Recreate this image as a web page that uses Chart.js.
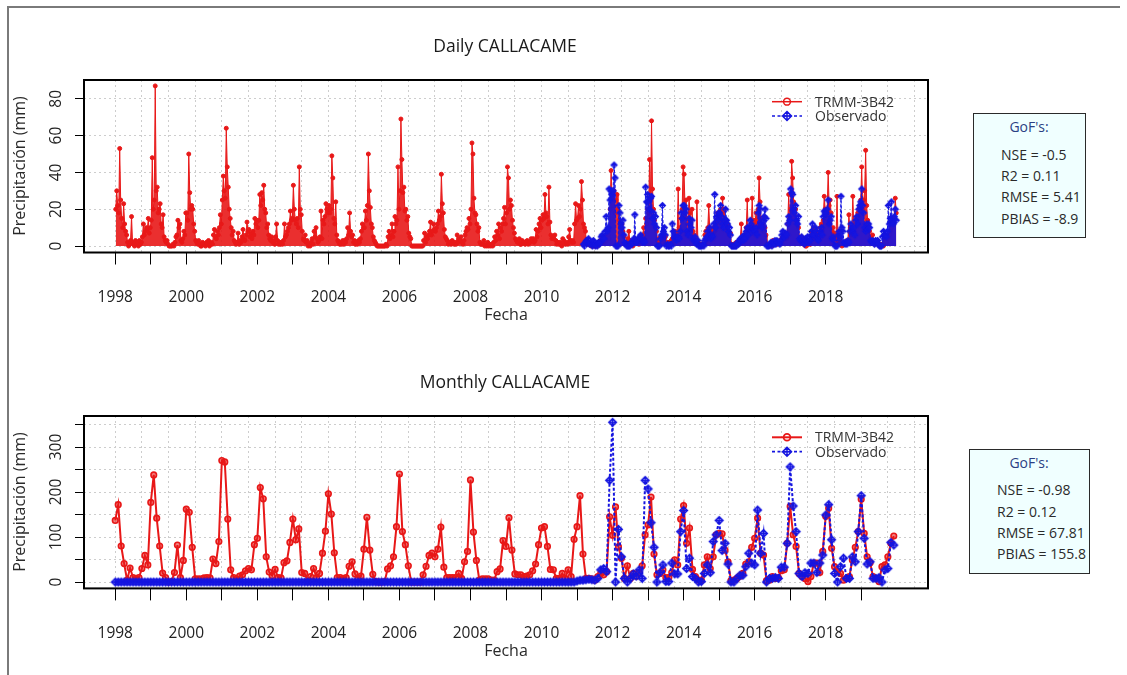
<!DOCTYPE html>
<html>
<head>
<meta charset="utf-8">
<script src="https://cdn.jsdelivr.net/npm/chart.js@4.4.1/dist/chart.umd.min.js"></script>
<style>
html,body{margin:0;padding:0;background:#fff;}
body{width:1127px;height:675px;position:relative;overflow:hidden;font-family:"Open Sans",sans-serif;color:#222;}
.abs{position:absolute;white-space:nowrap;line-height:1.2;}
.c{transform:translate(-50%,-50%);}
.l{transform:translate(0,-50%);}
.rot{transform:translate(-50%,-50%) rotate(-90deg);}
.title{font-size:17.5px;color:#1a1a1a;}
.axt{font-size:16px;color:#2a2a2a;}
.leg{font-size:14px;color:#333;}
.gof{position:absolute;box-sizing:border-box;border:1.5px solid #2a2a2a;background:#f0ffff;}
.gt{font-size:14px;color:#2a2a2a;}
.gh{font-size:14px;color:#2b3f84;}
canvas{position:absolute;left:0;}
</style>
</head>
<body>
<div class="abs" style="left:8px;top:6px;width:1112px;height:2px;background:#7a7a7a"></div>
<div class="abs" style="left:7px;top:6px;width:2px;height:669px;background:#7a7a7a"></div>

<canvas id="cDaily" width="1127" height="337" style="top:0px"></canvas>
<canvas id="cMonthly" width="1127" height="338" style="top:337px"></canvas>

<!-- titles -->
<div class="abs c title" style="left:505px;top:45px">Daily CALLACAME</div>
<div class="abs c title" style="left:505px;top:381px">Monthly CALLACAME</div>
<div class="abs c axt" style="left:506px;top:315px">Fecha</div>
<div class="abs c axt" style="left:506px;top:651px">Fecha</div>
<div class="abs rot axt" style="left:20px;top:166px">Precipitación (mm)</div>
<div class="abs rot axt" style="left:20px;top:502px">Precipitación (mm)</div>

<!-- legends -->
<svg class="abs" style="left:768px;top:92px" width="40" height="34">
  <line x1="4" y1="9.7" x2="34" y2="9.7" stroke="#e81818" stroke-width="1.5"/>
  <circle cx="19" cy="9.7" r="3.4" fill="none" stroke="#e81818" stroke-width="1.5"/>
  <line x1="4" y1="24" x2="34" y2="24" stroke="#1515e0" stroke-width="1.5" stroke-dasharray="3,2.5"/>
  <path d="M19 19.5 L23.5 24 L19 28.5 L14.5 24 Z M14.5 24 L23.5 24 M19 19.5 L19 28.5" fill="none" stroke="#1515e0" stroke-width="1.5"/>
</svg>
<div class="abs l leg" style="left:815px;top:101.7px">TRMM-3B42</div>
<div class="abs l leg" style="left:815px;top:116px">Observado</div>

<svg class="abs" style="left:768px;top:428px" width="40" height="34">
  <line x1="4" y1="9.3" x2="34" y2="9.3" stroke="#e81818" stroke-width="2"/>
  <circle cx="19" cy="9.3" r="3.4" fill="none" stroke="#e81818" stroke-width="1.8"/>
  <line x1="4" y1="23.7" x2="34" y2="23.7" stroke="#1515e0" stroke-width="1.8" stroke-dasharray="3,2.5"/>
  <path d="M19 19.2 L23.5 23.7 L19 28.2 L14.5 23.7 Z M14.5 23.7 L23.5 23.7 M19 19.2 L19 28.2" fill="none" stroke="#1515e0" stroke-width="1.5"/>
</svg>
<div class="abs l leg" style="left:815px;top:437.3px">TRMM-3B42</div>
<div class="abs l leg" style="left:815px;top:451.7px">Observado</div>

<!-- GoF boxes -->
<div class="gof" style="left:973px;top:113px;width:113px;height:125px"></div>
<div class="abs c gh" style="left:1029px;top:127px">GoF's:</div>
<div class="abs l gt" style="left:1001px;top:155px">NSE = -0.5</div>
<div class="abs l gt" style="left:1001px;top:176px">R2 = 0.11</div>
<div class="abs l gt" style="left:1001px;top:197px">RMSE = 5.41</div>
<div class="abs l gt" style="left:1001px;top:219px">PBIAS = -8.9</div>

<div class="gof" style="left:969px;top:449px;width:121px;height:125px"></div>
<div class="abs c gh" style="left:1029px;top:463px">GoF's:</div>
<div class="abs l gt" style="left:997px;top:490px">NSE = -0.98</div>
<div class="abs l gt" style="left:997px;top:511.7px">R2 = 0.12</div>
<div class="abs l gt" style="left:997px;top:532.7px">RMSE = 67.81</div>
<div class="abs l gt" style="left:997px;top:554px">PBIAS = 155.8</div>

<script>
// ---------------- DATA ----------------
const seriesStart = '1998-01';      // first month of both series
const obsDailyStart = '2011-03';    // first month with daily observations

const yearTicks = [1998,1999,2000,2001,2002,2003,2004,2005,2006,2007,2008,2009,2010,2011,2012,2013,2014,2015,2016,2017,2018,2019];
const yearLabels = ['1998','','2000','','2002','','2004','','2006','','2008','','2010','','2012','','2014','','2016','','2018',''];

const dailyYTicks = [0,20,40,60,80];
const dailyYLabels = ['0','20','40','60','80'];
const monthlyYTicks = [0,50,100,150,200,250,300,350];
const monthlyYLabels = ['0','','100','','200','','300',''];

// Monthly TRMM-3B42 (mm), Jan 1998 .. Dec 2019
const monthlyTRMM = [
 137,172,80,41,4,31,10,8,10,30,59,38,
 177,238,142,80,20,10,0,1,21,82,10,48,
 162,155,77,7,7,7,9,10,9,51,41,90,
 270,267,140,27,10,7,13,16,25,30,27,83,
 97,210,185,56,22,14,28,10,9,43,47,88,
 140,94,118,21,19,1,12,30,10,19,64,113,
 196,151,65,10,10,8,10,35,45,18,8,13,
 73,144,71,17,1,0,0,1,29,36,56,123,
 240,112,83,36,0,0,0,0,16,35,59,64,
 56,73,122,33,10,10,10,10,19,8,45,68,
 227,111,48,4,7,7,7,4,4,23,29,92,
 79,143,71,18,16,16,12,13,16,25,40,83,
 120,123,79,28,27,8,8,19,8,27,12,95,
 123,192,62,8,8,7,4,12,19,16,23,145,
 104,167,78,53,8,36,8,19,13,21,36,105,
 127,189,62,16,19,27,10,10,21,49,38,140,
 170,86,120,28,12,4,4,38,56,30,56,105,
 108,107,71,45,3,4,8,13,19,40,45,77,
 97,142,64,60,3,4,12,8,10,25,27,86,
 168,105,79,19,12,8,1,12,42,42,21,68,
 146,164,75,34,23,19,4,8,12,49,77,112,
 184,108,56,43,12,8,1,34,38,56,86,102
];

// Monthly observed (mm), Jan 1998 .. Dec 2019
const monthlyObs = [
 0,0,0,0,0,0,0,0,0,0,0,0,
 0,0,0,0,0,0,0,0,0,0,0,0,
 0,0,0,0,0,0,0,0,0,0,0,0,
 0,0,0,0,0,0,0,0,0,0,0,0,
 0,0,0,0,0,0,0,0,0,0,0,0,
 0,0,0,0,0,0,0,0,0,0,0,0,
 0,0,0,0,0,0,0,0,0,0,0,0,
 0,0,0,0,0,0,0,0,0,0,0,0,
 0,0,0,0,0,0,0,0,0,0,0,0,
 0,0,0,0,0,0,0,0,0,0,0,0,
 0,0,0,0,0,0,0,0,0,0,0,0,
 0,0,0,0,0,0,0,0,0,0,0,0,
 0,0,0,0,0,0,0,0,0,0,0,0,
 2,4,4,5,6,5,4,8,27,30,23,226,
 355,0,117,56,8,0,8,18,13,27,8,226,
 207,132,77,0,21,38,1,1,42,18,18,112,
 159,30,53,12,8,0,1,19,38,21,90,105,
 137,70,86,40,0,0,8,15,15,34,64,42,
 38,160,64,108,0,8,8,10,8,33,33,86,
 256,169,112,19,12,21,19,42,42,21,42,60,
 149,172,94,19,0,34,53,8,8,56,45,112,
 192,97,40,45,8,8,10,0,27,30,88,82
];

// Daily TRMM-3B42 (mm): highest daily value read in each 10-day period, Jan 1998 .. Dec 2019
const dailyTRMM = [
 20,30,22, 18,53,25, 15,10,23, 12,8,6, 2,0,1, 3,16,2, 1,0,3, 1,2,0, 3,1,2, 5,12,6, 8,10,9, 15,7,10,
 14,48,20, 25,87,30, 32,18,20, 23,12,10, 17,5,3, 2,3,1, 0,0,0, 0,1,0, 2,5,6, 14,10,12, 3,2,4, 8,6,18,
 18,14,50, 29,20,22, 20,12,8, 3,2,1, 3,1,0, 0,2,1, 1,0,2, 1,3,0, 1,2,1, 6,9,5, 4,8,6, 10,17,12,
 25,38,30, 26,64,43, 32,20,15, 10,6,8, 3,2,1, 2,7,1, 3,2,5, 9,4,3, 6,13,8, 9,5,7, 4,8,6, 15,12,14,
 10,14,28, 22,29,25, 33,20,18, 10,12,6, 4,3,5, 2,3,1, 5,12,3, 1,2,1, 2,1,3, 12,5,6, 8,10,12, 19,14,15,
 33,20,14, 12,15,10, 43,20,17, 8,4,3, 6,2,3, 0,1,0, 2,4,1, 8,5,10, 4,2,3, 5,19,4, 14,12,16, 23,20,18,
 22,18,20, 49,37,15, 12,24,6, 3,2,1, 2,1,3, 1,3,2, 4,10,6, 18,8,5, 6,2,3, 1,2,1, 3,2,4, 8,12,10,
 10,19,14, 22,50,30, 21,12,10, 5,3,2, 1,0,0, 0,0,0, 0,0,0, 0,1,0, 5,8,4, 6,12,5, 8,16,12, 14,43,20,
 30,69,47, 29,32,19, 20,14,16, 7,5,4, 0,0,0, 0,0,0, 0,0,0, 0,0,0, 3,7,2, 5,4,6, 8,13,6, 8,12,9,
 8,10,12, 19,14,16, 39,23,18, 9,5,4, 3,1,2, 2,1,3, 2,1,2, 1,6,2, 4,3,5, 2,1,3, 6,8,10, 9,15,12,
 20,56,50, 26,18,17, 12,8,10, 2,1,1, 1,3,0, 1,0,2, 0,1,0, 1,0,2, 5,3,8, 6,12,4, 10,8,12, 15,21,12,
 18,43,37, 20,25,22, 14,10,7, 4,3,2, 2,4,1, 1,3,2, 2,1,2, 3,1,2, 2,4,3, 4,2,3, 9,5,8, 12,15,10,
 14,17,15, 28,18,16, 12,32,13, 6,4,5, 4,6,3, 1,2,1, 2,1,0, 4,3,2, 1,2,1, 5,9,3, 2,3,2, 12,23,14,
 15,22,16, 20,35,25, 12,10,8, 2,1,1, 1,2,0, 1,0,1, 0,1,0, 2,1,3, 3,5,2, 2,4,3, 5,6,4, 20,41,28,
 22,30,18, 25,28,20, 14,12,10, 12,8,5, 1,2,1, 4,8,3, 1,2,0, 3,4,2, 2,3,1, 4,2,5, 6,10,4, 15,12,20,
 18,47,25, 68,31,20, 14,10,8, 3,4,2, 5,3,2, 6,4,5, 1,2,1, 2,1,3, 4,3,5, 8,6,7, 31,10,8, 15,20,43,
 39,20,25, 15,12,26, 18,14,20, 8,6,4, 3,24,2, 1,0,1, 1,0,1, 6,8,5, 10,22,9, 6,8,5, 10,8,12, 14,18,16,
 16,20,18, 26,15,20, 14,10,12, 8,6,7, 1,0,1, 1,0,2, 2,1,3, 4,12,2, 4,5,6, 10,25,6, 8,10,9, 26,12,14,
 14,18,12, 20,37,24, 15,10,12, 8,10,6, 1,0,0, 0,1,0, 3,2,1, 1,2,1, 2,3,2, 4,5,6, 6,5,4, 12,28,15,
 20,46,37, 24,18,20, 14,12,10, 4,3,5, 2,1,1, 0,0,1, 2,3,1, 8,6,10, 6,9,7, 4,3,5, 10,12,8, 14,27,20,
 18,20,40, 22,25,18, 8,10,7, 4,5,27, 3,2,4, 1,0,1, 2,1,2, 3,2,17, 8,6,10, 27,10,12, 14,16,18, 20,22,25,
 43,20,25, 30,52,22, 14,10,8, 5,4,6, 2,1,3, 2,3,1, 0,1,0, 1,0,2, 3,2,4, 5,6,8, 10,12,14, 15,26,18
];

// Daily observed (mm): highest daily value in each 10-day period, Mar 2011 .. Dec 2019
const dailyObs = [
 1,0,2, 3,2,4, 1,2,1, 0,3,1, 0,1,0, 2,1,2, 5,6,4, 4,8,16, 8,10,31, 25,30,28,
 30,44,37, 0,0,0, 22,18,12, 10,14,6, 2,1,0, 0,0,0, 2,1,2, 4,17,3, 2,3,4, 5,6,4, 2,3,2, 32,24,28,
 24,20,26, 27,15,18, 12,16,10, 0,0,0, 4,6,22, 8,10,6, 0,1,0, 0,1,0, 12,8,6, 4,3,5, 5,4,8, 18,15,22,
 22,18,20, 8,6,15, 12,10,14, 4,3,5, 2,1,3, 0,0,0, 0,1,0, 3,4,5, 8,6,10, 4,6,5, 12,28,10, 16,14,18,
 18,22,16, 12,10,14, 20,14,12, 8,10,6, 0,0,0, 0,0,0, 2,1,3, 4,3,5, 3,6,4, 8,10,6, 10,14,12, 8,10,9,
 8,10,6, 18,22,20, 12,10,14, 16,20,15, 0,0,0, 1,2,0, 2,1,3, 1,3,2, 2,1,3, 6,8,5, 5,7,6, 12,16,14,
 31,29,28, 20,18,22, 14,12,16, 4,3,5, 2,3,1, 4,3,5, 2,5,3, 8,12,6, 6,10,8, 4,3,6, 8,10,6, 16,19,18,
 18,20,25, 12,14,16, 4,5,3, 0,0,0, 6,8,5, 27,10,8, 2,1,2, 1,3,2, 8,12,10, 8,10,6, 14,16,12, 20,22,24,
 31,22,18, 10,8,12, 9,12,10, 3,2,3, 2,1,3, 2,3,1, 0,0,0, 5,8,6, 6,5,8, 22,12,15, 24,14,12, 16,20,14
];

// ---------------- STYLE / BUILD ----------------
const RED = '#e81818', BLUE = '#1515e0';
const FONT = '"Open Sans", sans-serif';
const X_MIN = 1997.12, X_MAX = 2020.88;

function monthIndex(s){ const p = s.split('-').map(Number); return (p[0]-1998)*12 + (p[1]-1); }
const baseYear = Number(seriesStart.split('-')[0]);
const monthlyPoints = arr => arr.map((v,i)=>({x: baseYear + i/12, y: v}));
const dekadPoints = (arr, m0) => arr.map((v,k)=>({x: baseYear + (m0 + (k+0.5)/3)/12, y: v}));

const gridX = [];
for (let k = 0; k <= 30; k++) gridX.push(1998 + 0.75*k);

function diamondPlus(color, half, lw){
  const s = Math.ceil(half*2 + lw*2 + 2);
  const c = document.createElement('canvas'); c.width = s; c.height = s;
  const g = c.getContext('2d'); const m = s/2;
  g.strokeStyle = color; g.lineWidth = lw;
  g.beginPath();
  g.moveTo(m, m-half); g.lineTo(m+half, m); g.lineTo(m, m+half); g.lineTo(m-half, m); g.closePath();
  g.moveTo(m-half, m); g.lineTo(m+half, m);
  g.moveTo(m, m-half); g.lineTo(m, m+half);
  g.stroke();
  return c;
}

const rPlot = {
  id: 'rPlot',
  afterDatasetsDraw(chart, args, opts){
    const {ctx, chartArea: a} = chart;
    ctx.save();
    ctx.strokeStyle = '#000'; ctx.lineWidth = 2;
    ctx.strokeRect(a.left, a.top, a.right - a.left, a.bottom - a.top);
    const ys = chart.scales.y;
    ctx.fillStyle = '#222';
    ctx.font = '15.5px ' + FONT;
    ctx.textAlign = 'center'; ctx.textBaseline = 'middle';
    opts.values.forEach((v,i)=>{
      const lab = opts.labels[i];
      if (!lab) return;
      const py = ys.getPixelForValue(v);
      ctx.save(); ctx.translate(opts.labelX, py); ctx.rotate(-Math.PI/2);
      ctx.fillText(lab, 0, 0); ctx.restore();
    });
    ctx.restore();
  }
};

function panel(id, o){
  return new Chart(document.getElementById(id), {
    type: 'line',
    data: { datasets: o.datasets },
    options: {
      responsive: false, animation: false, devicePixelRatio: 1,
      layout: { padding: { top: o.top, right: 199, bottom: 0, left: 0 } },
      plugins: { legend: { display: false }, tooltip: { enabled: false },
                 rPlot: { values: o.yTicks, labels: o.yLabels, labelX: 57 } },
      elements: { line: { tension: 0 } },
      scales: {
        x: { type: 'linear', position: 'bottom', min: X_MIN, max: X_MAX,
             afterBuildTicks: s => { s.ticks = yearTicks.map(v => ({value: v})); },
             afterFit: s => { s.height = o.xH; },
             ticks: { autoSkip: false, maxRotation: 0, minRotation: 0, padding: 24, color: '#222',
                      font: { family: FONT, size: 15.5 }, callback: (v, i) => yearLabels[i] },
             grid: { drawOnChartArea: false, drawTicks: true, tickLength: 12, color: '#000', lineWidth: 1 },
             border: { display: false } },
        xg: { type: 'linear', position: 'top', min: X_MIN, max: X_MAX,
              afterBuildTicks: s => { s.ticks = gridX.map(v => ({value: v})); },
              afterFit: s => { s.height = 0; },
              ticks: { display: false },
              grid: { drawTicks: false, color: '#cdcdcd', lineWidth: 1 },
              border: { display: false, dash: [2, 3] } },
        y: { type: 'linear', position: 'left', min: o.yMin, max: o.yMax,
             afterBuildTicks: s => { s.ticks = o.yTicks.map(v => ({value: v})); },
             afterFit: s => { s.width = 84; },
             ticks: { display: false },
             grid: { drawOnChartArea: false, drawTicks: true, tickLength: 9, color: '#000', lineWidth: 1 },
             border: { display: false } },
        yg: { type: 'linear', position: 'left', min: o.yMin, max: o.yMax,
              afterBuildTicks: s => { s.ticks = o.yTicks.map(v => ({value: v})); },
              afterFit: s => { s.width = 0; },
              ticks: { display: false },
              grid: { drawTicks: false, color: '#cdcdcd', lineWidth: 1 },
              border: { display: false, dash: [2, 3] } }
      }
    },
    plugins: [rPlot]
  });
}

const diaDaily = diamondPlus(BLUE, 3, 1.2);
const diaMonthly = diamondPlus(BLUE, 3.8, 1.5);

panel('cDaily', {
  top: 80, xH: 84.5, yMin: -3.5, yMax: 90.2,
  yTicks: dailyYTicks, yLabels: dailyYLabels,
  datasets: [
    { label: 'TRMM-3B42', data: dekadPoints(dailyTRMM, 0), order: 1,
      borderColor: RED, borderWidth: 1, fill: 'origin', backgroundColor: 'rgba(232,24,24,0.9)',
      pointRadius: 2, pointBorderWidth: 1, pointBorderColor: RED, pointBackgroundColor: RED },
    { label: 'Observado', data: dekadPoints(dailyObs, monthIndex(obsDailyStart)), order: 0,
      borderColor: BLUE, borderWidth: 1, borderDash: [3, 2], fill: 'origin', backgroundColor: 'rgba(21,21,224,0.88)',
      pointStyle: diaDaily, pointRadius: 3 }
  ]
});

panel('cMonthly', {
  top: 79, xH: 86.6, yMin: -14.2, yMax: 369,
  yTicks: monthlyYTicks, yLabels: monthlyYLabels,
  datasets: [
    { label: 'TRMM-3B42', data: monthlyPoints(monthlyTRMM), order: 1,
      borderColor: RED, borderWidth: 2, fill: false,
      pointRadius: 2.8, pointBorderWidth: 1.6, pointBorderColor: RED, pointBackgroundColor: 'rgba(232,24,24,0.55)' },
    { label: 'Observado', data: monthlyPoints(monthlyObs), order: 0,
      borderColor: BLUE, borderWidth: 2, borderDash: [3, 2], fill: false,
      pointStyle: diaMonthly, pointRadius: 4 }
  ]
});
</script>
</body>
</html>
